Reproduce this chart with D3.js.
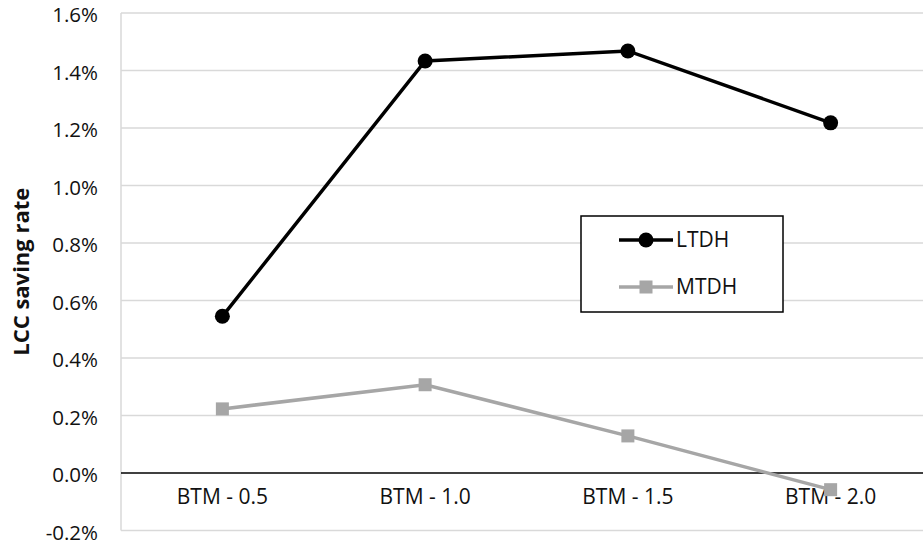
<!DOCTYPE html>
<html>
<head>
<meta charset="utf-8">
<script src="https://cdn.jsdelivr.net/npm/d3@7"></script>
<style>
  body { margin: 0; background: #fff; }
  svg text { font-family: "Open Sans", sans-serif; fill: #111; }
</style>
</head>
<body>
<div class="chart"></div>
<script>
// chart data
var categories = ["BTM - 0.5", "BTM - 1.0", "BTM - 1.5", "BTM - 2.0"];
var ltdhValues = [0.545, 1.433, 1.468, 1.218];
var mtdhValues = [0.223, 0.307, 0.129, -0.058];
var yTicks = [-0.2, 0, 0.2, 0.4, 0.6, 0.8, 1.0, 1.2, 1.4, 1.6];
var seriesNames = ["LTDH", "MTDH"];

var svgWidth = 923;
var svgHeight = 545;

var margin = { top: 13, left: 121, bottom: 14.5, right: -9 };
var width = svgWidth - margin.left - margin.right;
var height = svgHeight - margin.top - margin.bottom;

var svg = d3.select(".chart")
  .append("svg")
  .attr("width", svgWidth)
  .attr("height", svgHeight);

var chartGroup = svg.append("g")
  .attr("transform", `translate(${margin.left}, ${margin.top})`);

// scales
var xScale = d3.scaleBand()
  .domain(categories)
  .range([0, width]);

var yScale = d3.scaleLinear()
  .domain([-0.2, 1.6])
  .range([height, 0]);

var xc = d => xScale(d) + xScale.bandwidth() / 2;

// gridlines
chartGroup.append("g")
  .selectAll("line")
  .data(yTicks.filter(t => t !== 0))
  .enter()
  .append("line")
  .attr("x1", 0)
  .attr("x2", width)
  .attr("y1", d => yScale(d))
  .attr("y2", d => yScale(d))
  .attr("stroke", "#d9d9d9")
  .attr("stroke-width", 1.5);

// left border of plot area
chartGroup.append("line")
  .attr("x1", 0).attr("x2", 0)
  .attr("y1", 0).attr("y2", height)
  .attr("stroke", "#d9d9d9")
  .attr("stroke-width", 1.5);

// zero line
chartGroup.append("line")
  .attr("x1", 0)
  .attr("x2", width)
  .attr("y1", yScale(0))
  .attr("y2", yScale(0))
  .attr("stroke", "#000")
  .attr("stroke-width", 1.5);

// y axis labels
var yAxis = d3.axisLeft(yScale)
  .tickValues(yTicks)
  .tickSize(0)
  .tickPadding(23)
  .tickFormat(d => d.toFixed(1) + "%");

chartGroup.append("g")
  .attr("transform", "translate(0, 2)")
  .call(yAxis)
  .call(g => g.select(".domain").remove())
  .selectAll("text")
  .style("font-size", "20.5px")
  .attr("fill", "#111");

// x labels
chartGroup.append("g")
  .selectAll("text")
  .data(categories)
  .enter()
  .append("text")
  .attr("x", d => xc(d))
  .attr("y", yScale(0) + 31)
  .attr("text-anchor", "middle")
  .style("font-size", "21px")
  .text(d => d);

// y axis title
svg.append("text")
  .attr("transform", `translate(29, ${margin.top + height / 2}) rotate(-90)`)
  .attr("text-anchor", "middle")
  .style("font-size", "22px")
  .style("font-weight", "bold")
  .text("LCC saving rate");

// line generator
var line = d3.line()
  .x((d, i) => xc(categories[i]))
  .y(d => yScale(d));

// MTDH
chartGroup.append("path")
  .datum(mtdhValues)
  .attr("d", line)
  .attr("fill", "none")
  .attr("stroke", "#a6a6a6")
  .attr("stroke-width", 3.5);

chartGroup.selectAll(".mtdh")
  .data(mtdhValues)
  .enter()
  .append("rect")
  .attr("class", "mtdh")
  .attr("x", (d, i) => xc(categories[i]) - 6.5)
  .attr("y", d => yScale(d) - 6.5)
  .attr("width", 13)
  .attr("height", 13)
  .attr("fill", "#a6a6a6");

// LTDH
chartGroup.append("path")
  .datum(ltdhValues)
  .attr("d", line)
  .attr("fill", "none")
  .attr("stroke", "#000")
  .attr("stroke-width", 3.5);

chartGroup.selectAll(".ltdh")
  .data(ltdhValues)
  .enter()
  .append("circle")
  .attr("class", "ltdh")
  .attr("cx", (d, i) => xc(categories[i]))
  .attr("cy", d => yScale(d))
  .attr("r", 7.5)
  .attr("fill", "#000");

// legend
var legend = svg.append("g")
  .attr("transform", "translate(581, 216)");

legend.append("rect")
  .attr("width", 202)
  .attr("height", 96)
  .attr("fill", "#fff")
  .attr("stroke", "#000")
  .attr("stroke-width", 1.5);

var legendItems = legend.selectAll(".item")
  .data(seriesNames)
  .enter()
  .append("g")
  .attr("class", "item")
  .attr("transform", (d, i) => `translate(0, ${24 + i * 47})`);

legendItems.append("line")
  .attr("x1", 38)
  .attr("x2", 92)
  .attr("stroke", (d, i) => i === 0 ? "#000" : "#a6a6a6")
  .attr("stroke-width", 3.5);

legendItems.filter((d, i) => i === 0)
  .append("circle")
  .attr("cx", 65)
  .attr("r", 7.5)
  .attr("fill", "#000");

legendItems.filter((d, i) => i === 1)
  .append("rect")
  .attr("x", 58.5)
  .attr("y", -6.5)
  .attr("width", 13)
  .attr("height", 13)
  .attr("fill", "#a6a6a6");

legendItems.append("text")
  .attr("x", 95)
  .attr("dy", "0.35em")
  .style("font-size", "21px")
  .text(d => d);
</script>
</body>
</html>
